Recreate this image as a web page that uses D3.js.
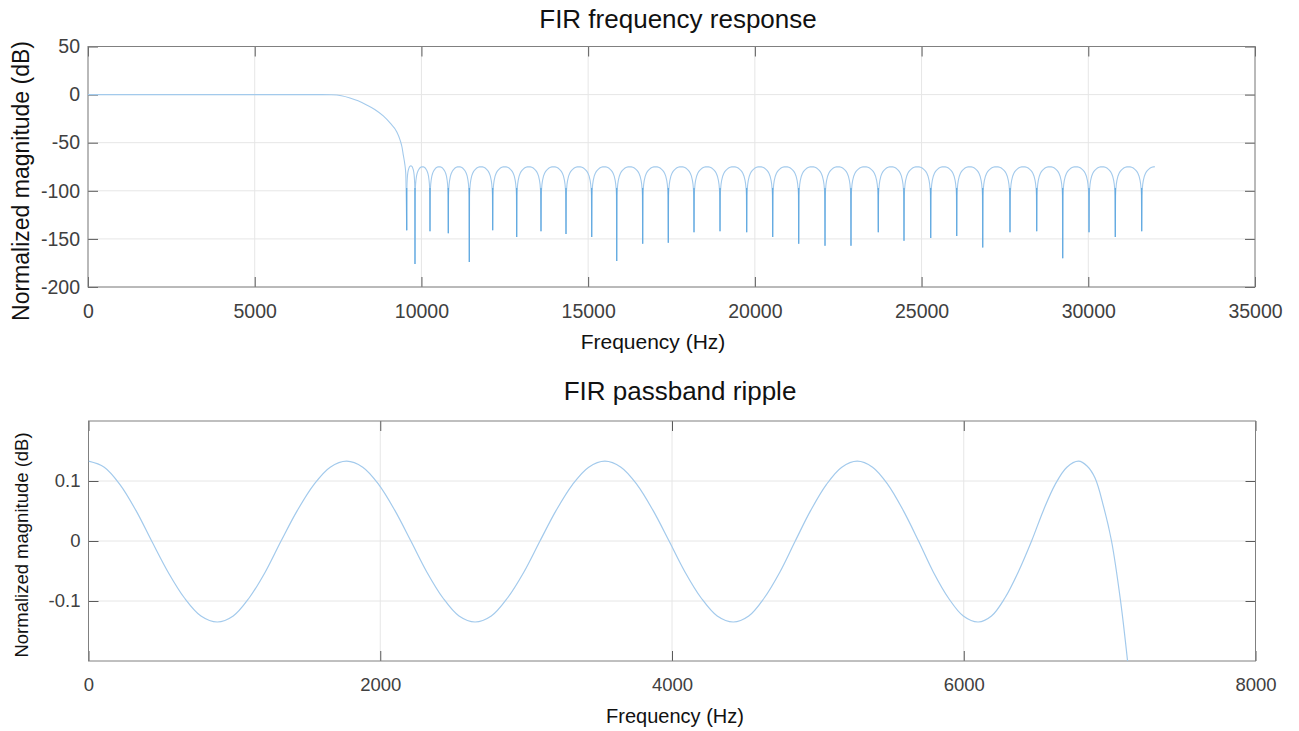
<!DOCTYPE html>
<html><head><meta charset="utf-8">
<script src="https://cdn.jsdelivr.net/npm/d3@7"></script>
<style>
body{margin:0;background:#fff}
svg{display:block}
text{font-family:"Liberation Sans",Arial,Helvetica,sans-serif}
</style>
</head><body>
<svg id="c" width="1299" height="731"></svg>
<script>
// ---------------- data ----------------
const topXTicks = [0, 5000, 10000, 15000, 20000, 25000, 30000, 35000];
const topYTicks = [-200, -150, -100, -50, 0, 50];
// passband + transition band (Hz, dB)
const transitionFreq = [0, 1000, 2000, 3000, 4000, 5000, 6000, 7000, 7300, 7600, 7857, 8100, 8357, 8600, 8856, 9058, 9258, 9358, 9420, 9457, 9500, 9530, 9558];
const transitionDb   = [0, 0, 0, 0, 0, 0, 0, 0, -0.2, -1.2, -3.5, -6.5, -10.8, -15.5, -22.2, -29.5, -38.6, -47, -55, -63, -72, -82, -141];
// stopband nulls (Hz) and their depths (dB)
const nullFreq = [9558, 9807, 10257, 10806, 11436, 12137, 12857, 13586, 14336, 15107, 15857, 16636, 17404, 18175, 18955, 19755, 20535, 21315, 22104, 22883, 23702, 24473, 25274, 26054, 26834, 27652, 28453, 29233, 30022, 30810, 31602];
const nullDb   = [-141, -176, -142, -144, -174, -141, -148, -142, -145, -148, -173, -155, -154, -143, -142, -143, -148, -155, -157, -157, -143, -152, -149, -147, -159, -143, -142, -170, -143, -148, -142];
// stopband lobe peak level (dB), one per lobe after each null
const lobePeakDb = [-74, -75, -75, -75, -75, -75, -75, -75, -75, -75, -75, -75, -75, -75, -75, -75, -75, -75, -75, -75, -75, -75, -75, -75, -75, -75, -75, -75, -75, -75, -75];
const stopbandEndFreq = 32000;
// lobe outline: fraction of lobe width from the null, dB below lobe peak
const lobeShapeT  = [0.01, 0.02, 0.04, 0.06, 0.08, 0.10, 0.14, 0.18, 0.22, 0.27, 0.32, 0.38, 0.44, 0.5];
const lobeShapeDb = [-30, -24, -18, -14.5, -12, -9.8, -7, -5.1, -3.7, -2.4, -1.3, -0.6, -0.15, 0];
const spikeTopDb = -97;

const botXTicks = [0, 2000, 4000, 6000, 8000];
const botYTicks = [-0.1, 0, 0.1];
const rippleFreq = [0, 108, 216, 325, 433, 546, 658, 771, 883,
  992, 1101, 1211, 1320, 1432, 1545, 1657, 1770,
  1880, 1990, 2100, 2210, 2320, 2430, 2540, 2650,
  2761, 2872, 2984, 3095, 3206, 3318, 3429, 3540,
  3650, 3760, 3870, 3980, 4090, 4200, 4310, 4420,
  4526, 4632, 4739, 4845, 4951, 5058, 5164, 5270,
  5375, 5480, 5585, 5690, 5792, 5895, 5997, 6099,
  6190, 6282, 6373, 6465, 6546, 6626, 6707, 6787,
  6845, 6900, 6960, 7013, 7075, 7123];
const rippleDb = [0.133, 0.123, 0.094, 0.051, 0, -0.052, -0.095, -0.125, -0.135,
  -0.125, -0.095, -0.052, 0, 0.051, 0.094, 0.123, 0.133,
  0.123, 0.094, 0.051, 0, -0.052, -0.095, -0.125, -0.135,
  -0.125, -0.095, -0.052, 0, 0.051, 0.094, 0.123, 0.133,
  0.123, 0.094, 0.051, 0, -0.052, -0.095, -0.125, -0.135,
  -0.125, -0.095, -0.052, 0, 0.051, 0.094, 0.123, 0.133,
  0.123, 0.094, 0.051, 0, -0.052, -0.095, -0.125, -0.135,
  -0.125, -0.095, -0.052, 0, 0.051, 0.094, 0.123, 0.133,
  0.125, 0.105, 0.056, 0, -0.1, -0.2];

// ---------------- drawing ----------------
const svg = d3.select("#c");
const lineColor = "#a3caec";
const spikeColor = "#5ea8e0";

function frame(g, x, y, xTicks, yTicks, fs, fmtY) {
  const [x0, x1] = x.range(), [y0, y1] = y.range();
  g.append("g").selectAll("line").data(xTicks).join("line")
    .attr("x1", d => x(d)).attr("x2", d => x(d)).attr("y1", y1).attr("y2", y0)
    .attr("stroke", "#e6e6e6").attr("stroke-width", 1);
  g.append("g").selectAll("line").data(yTicks).join("line")
    .attr("x1", x0).attr("x2", x1).attr("y1", d => y(d)).attr("y2", d => y(d))
    .attr("stroke", "#e6e6e6").attr("stroke-width", 1);
  const tk = 10;
  const ab = g.append("g").attr("transform", `translate(0,${y0})`)
    .call(d3.axisBottom(x).tickValues(xTicks).tickSizeInner(-tk).tickSizeOuter(0).tickPadding(17).tickFormat(d => String(d)));
  const at = g.append("g").attr("transform", `translate(0,${y1})`)
    .call(d3.axisTop(x).tickValues(xTicks).tickSizeInner(-tk).tickSizeOuter(0).tickFormat(""));
  const al = g.append("g").attr("transform", `translate(${x0},0)`)
    .call(d3.axisLeft(y).tickValues(yTicks).tickSizeInner(-tk).tickSizeOuter(0).tickPadding(8).tickFormat(fmtY));
  const ar = g.append("g").attr("transform", `translate(${x1},0)`)
    .call(d3.axisRight(y).tickValues(yTicks).tickSizeInner(-tk).tickSizeOuter(0).tickFormat(""));
  [ab, at, al, ar].forEach(a => {
    a.select(".domain").remove();
    a.selectAll(".tick line").attr("stroke", "#5a5a5a").attr("stroke-width", 1);
    a.selectAll(".tick text").attr("fill", "#404040").attr("font-size", fs)
      .attr("font-family", '"Liberation Sans",Arial,sans-serif');
  });
  g.append("rect").attr("x", x0).attr("y", y1).attr("width", x1 - x0).attr("height", y0 - y1)
    .attr("fill", "none").attr("stroke", "#808080").attr("stroke-width", 1);
}

// ---- top chart ----
const topG = svg.append("g");
const xT = d3.scaleLinear().domain([0, 35000]).range([88, 1255]);
const yT = d3.scaleLinear().domain([-200, 50]).range([287, 46.5]);
frame(topG, xT, yT, topXTicks, topYTicks, 19.5, d => String(d));

const transPts = transitionFreq.map((f, i) => [f, transitionDb[i]]);
topG.append("path").datum(transPts)
  .attr("d", d3.line().x(d => xT(d[0])).y(d => yT(d[1])).curve(d3.curveMonotoneX))
  .attr("fill", "none").attr("stroke", lineColor).attr("stroke-width", 1.1);

const stopPts = [];
nullFreq.forEach((f, i) => {
  const fNext = i + 1 < nullFreq.length ? nullFreq[i + 1] : null;
  const w = fNext !== null ? fNext - f : 2 * (stopbandEndFreq - f);
  const peak = lobePeakDb[i];
  stopPts.push([f, nullDb[i]]);
  lobeShapeT.forEach((t, k) => stopPts.push([f + t * w, peak + lobeShapeDb[k]]));
  if (fNext !== null) {
    for (let k = lobeShapeT.length - 2; k >= 0; k--) stopPts.push([f + (1 - lobeShapeT[k]) * w, peak + lobeShapeDb[k]]);
  }
});
topG.append("path").datum(stopPts)
  .attr("d", d3.line().x(d => xT(d[0])).y(d => yT(d[1])))
  .attr("fill", "none").attr("stroke", lineColor).attr("stroke-width", 1.1);
// darker null spikes
topG.append("g").selectAll("line").data(nullFreq).join("line")
  .attr("x1", d => xT(d)).attr("x2", d => xT(d))
  .attr("y1", yT(spikeTopDb)).attr("y2", (d, i) => yT(nullDb[i]))
  .attr("stroke", spikeColor).attr("stroke-width", 1.2);

topG.append("text").attr("x", 678).attr("y", 28).attr("text-anchor", "middle")
  .attr("font-size", 26).attr("fill", "#111").text("FIR frequency response");
topG.append("text").attr("x", 653).attr("y", 349).attr("text-anchor", "middle")
  .attr("font-size", 21).attr("fill", "#111").text("Frequency (Hz)");
topG.append("text").attr("transform", "translate(29,181) rotate(-90)").attr("text-anchor", "middle")
  .attr("font-size", 23).attr("fill", "#111").text("Normalized magnitude (dB)");

// ---- bottom chart ----
const botG = svg.append("g");
const xB = d3.scaleLinear().domain([0, 8000]).range([88.5, 1255.5]);
const yB = d3.scaleLinear().domain([-0.2, 0.2]).range([661, 421]);
frame(botG, xB, yB, botXTicks, botYTicks, 18.5, d => String(d));

svg.append("clipPath").attr("id", "clipB").append("rect")
  .attr("x", 88.5).attr("y", 421).attr("width", 1167).attr("height", 240);
const ripPts = rippleFreq.map((f, i) => [f, rippleDb[i]]);
botG.append("path").datum(ripPts).attr("clip-path", "url(#clipB)")
  .attr("d", d3.line().x(d => xB(d[0])).y(d => yB(d[1])).curve(d3.curveCatmullRom.alpha(0.5)))
  .attr("fill", "none").attr("stroke", lineColor).attr("stroke-width", 1.2);

botG.append("text").attr("x", 680).attr("y", 400).attr("text-anchor", "middle")
  .attr("font-size", 26).attr("fill", "#111").text("FIR passband ripple");
botG.append("text").attr("x", 675).attr("y", 723).attr("text-anchor", "middle")
  .attr("font-size", 20).attr("fill", "#111").text("Frequency (Hz)");
botG.append("text").attr("transform", "translate(28,545) rotate(-90)").attr("text-anchor", "middle")
  .attr("font-size", 18.5).attr("fill", "#111").text("Normalized magnitude (dB)");
</script>
</body></html>
